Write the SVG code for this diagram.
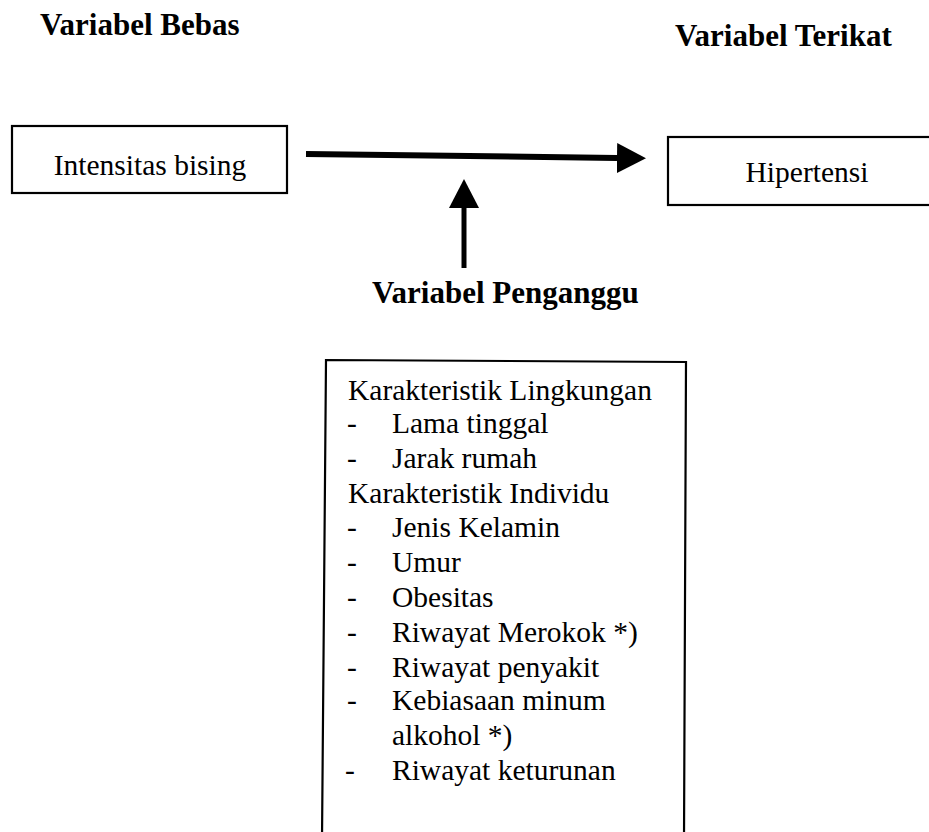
<svg xmlns="http://www.w3.org/2000/svg" width="929" height="832" viewBox="0 0 929 832">
  <defs>
    <style>
      .title { font-family: "Liberation Serif", "Times New Roman", serif; font-weight: bold; font-size: 31px; fill: #000; }
      .label { font-family: "Liberation Serif", "Times New Roman", serif; font-size: 29.5px; fill: #000; }
      .box { fill: #fff; stroke: #000; stroke-width: 2.2; }
      .conn { fill: none; stroke: #000; }
    </style>
    <marker id="head" markerUnits="userSpaceOnUse" markerWidth="30" markerHeight="30" refX="0" refY="15" orient="auto" viewBox="0 0 30 30">
      <path d="M0,0 L29,15 L0,30 z" fill="#000"/>
    </marker>
  </defs>
  <rect width="929" height="832" fill="#fff"/>

  <g id="title-bebas">
    <text class="title" x="40" y="35">Variabel Bebas</text>
  </g>
  <g id="title-terikat">
    <text class="title" x="675" y="46">Variabel Terikat</text>
  </g>

  <g id="node-intensitas">
    <rect class="box" x="12" y="126" width="275" height="67"/>
    <text class="label" x="150" y="175" text-anchor="middle">Intensitas bising</text>
  </g>

  <g id="node-hipertensi">
    <rect class="box" x="668" y="137" width="300" height="68"/>
    <text class="label" x="807" y="182" text-anchor="middle">Hipertensi</text>
  </g>

  <g id="connectors">
    <path class="conn" d="M306,154 L617,158" stroke-width="6" marker-end="url(#head)"/>
    <path class="conn" d="M464,268 L464,208" stroke-width="5" marker-end="url(#head)"/>
  </g>

  <g id="title-penganggu">
    <text class="title" x="372" y="303">Variabel Penganggu</text>
  </g>

  <g id="node-penganggu">
    <path d="M326,360 L686,362 L684,840 L322,840 Z" fill="#fff" stroke="#000" stroke-width="2.2"/>
    <g class="label">
      <text x="348" y="400">Karakteristik Lingkungan</text>
      <text x="347" y="433">-</text><text x="392" y="433">Lama tinggal</text>
      <text x="347" y="468">-</text><text x="392" y="468">Jarak rumah</text>
      <text x="348" y="503">Karakteristik Individu</text>
      <text x="347" y="537">-</text><text x="392" y="537">Jenis Kelamin</text>
      <text x="347" y="572">-</text><text x="392" y="572">Umur</text>
      <text x="347" y="607">-</text><text x="392" y="607">Obesitas</text>
      <text x="347" y="642">-</text><text x="392" y="642">Riwayat Merokok *)</text>
      <text x="347" y="677">-</text><text x="392" y="677">Riwayat penyakit</text>
      <text x="347" y="710">-</text><text x="392" y="710">Kebiasaan minum</text>
      <text x="392" y="745">alkohol *)</text>
      <text x="345" y="780">-</text><text x="392" y="780">Riwayat keturunan</text>
    </g>
  </g>
</svg>
